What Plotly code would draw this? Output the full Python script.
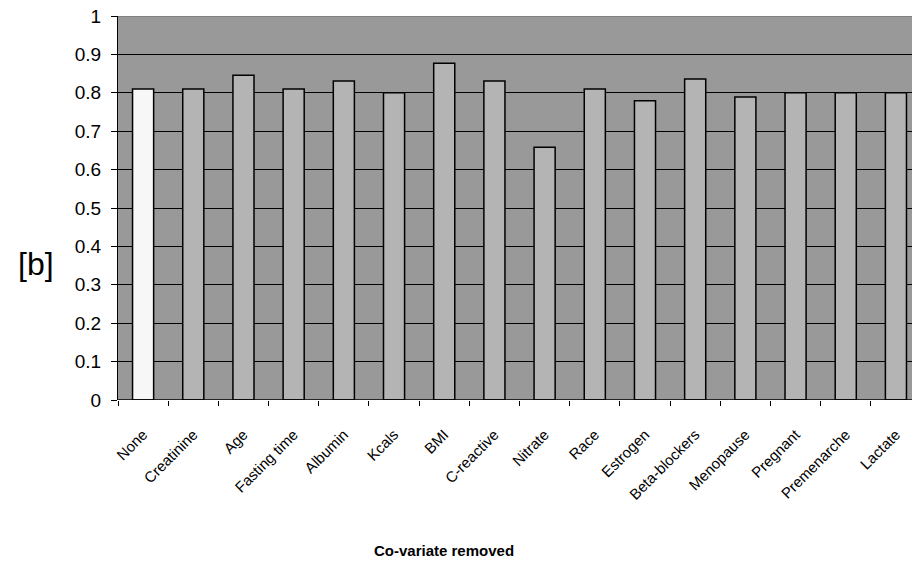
import plotly.graph_objects as go

categories = ["None", "Creatinine", "Age", "Fasting time", "Albumin", "Kcals", "BMI",
              "C-reactive", "Nitrate", "Race", "Estrogen", "Beta-blockers", "Menopause",
              "Pregnant", "Premenarche", "Lactate"]
values = [0.81, 0.81, 0.846, 0.81, 0.831, 0.80, 0.877, 0.831, 0.658, 0.81, 0.779,
          0.836, 0.789, 0.80, 0.80, 0.80]
y_ticks = [0, 0.1, 0.2, 0.3, 0.4, 0.5, 0.6, 0.7, 0.8, 0.9, 1]
y_tick_labels = ["0", "0.1", "0.2", "0.3", "0.4", "0.5", "0.6", "0.7", "0.8", "0.9", "1"]

bar_colors = ["#f7f7f7"] + ["#b4b4b4"] * (len(categories) - 1)

FONT = "Liberation Sans, Arial, sans-serif"

fig = go.Figure(go.Bar(
    x=categories, y=values,
    marker=dict(color=bar_colors, line=dict(color="#000000", width=1.5)),
    width=0.42,
))

fig.update_layout(
    width=912, height=572,
    margin=dict(l=118, r=0, t=16, b=172, autoexpand=False),
    paper_bgcolor="white", plot_bgcolor="#999999",
    showlegend=False,
    xaxis=dict(
        type="category", range=[-0.5, 15.32],
        automargin=False,
        showgrid=False, zeroline=False,
        showline=False,
        ticks="outside", ticklen=5, tickcolor="#000000", tickwidth=1,
        tickson="boundaries",
        tickangle=-45,
        tickfont=dict(family=FONT, size=15, color="#000000"),
        ticklabelstandoff=22,
        ticklabeloverflow="allow",
    ),
    yaxis=dict(
        range=[0, 1], tickvals=y_ticks, ticktext=y_tick_labels,
        automargin=False,
        showgrid=True, gridcolor="#000000", gridwidth=1,
        zeroline=False,
        showline=True, linecolor="#000000", linewidth=1,
        ticks="outside", ticklen=6, tickcolor="#000000",
        tickfont=dict(family=FONT, size=19, color="#000000"),
        ticklabelstandoff=6,
        ticklabeloverflow="allow",
    ),
    shapes=[
        dict(type="line", xref="paper", yref="y", x0=0, x1=1, y0=1, y1=1,
             line=dict(color="#808080", width=2)),
        dict(type="line", xref="paper", yref="y", x0=0, x1=1, y0=0, y1=0,
             line=dict(color="#000000", width=1.5)),
    ],
    annotations=[
        dict(text="[b]", xref="paper", yref="paper", x=-0.103, y=0.355,
             xanchor="center", yanchor="middle",
             showarrow=False, font=dict(family=FONT, size=32, color="#000000")),
        dict(text="<b>Co-variate removed</b>", xref="paper", yref="paper", x=0.411, y=-0.393,
             xanchor="center", yanchor="middle",
             showarrow=False, font=dict(family=FONT, size=15, color="#000000")),
    ],
)

fig.write_html("out.html", config={"displayModeBar": False},
               post_script="document.body.style.margin='0';document.documentElement.style.overflow='hidden';")
